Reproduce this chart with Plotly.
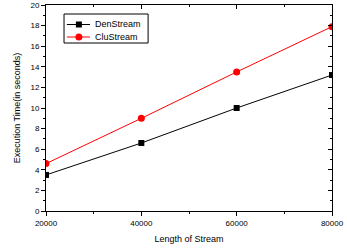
import plotly.graph_objects as go

x_vals = [20000, 40000, 60000, 80000]
denstream = [3.5, 6.6, 10.0, 13.2]
clustream = [4.6, 9.0, 13.5, 17.9]
x_ticks = [20000, 40000, 60000, 80000]
x_ticktext = ["20000", "40000", "60000", "80000"]
y_ticks = [0, 2, 4, 6, 8, 10, 12, 14, 16, 18, 20]
series_names = ["DenStream", "CluStream"]
series_colors = ["black", "red"]

FONT = "Arial, Liberation Sans, sans-serif"

fig = go.Figure()
fig.add_trace(go.Scatter(x=x_vals, y=denstream, name=series_names[0], mode="lines+markers",
                         line=dict(color=series_colors[0], width=1),
                         marker=dict(symbol="square", size=6, color=series_colors[0])))
fig.add_trace(go.Scatter(x=x_vals, y=clustream, name=series_names[1], mode="lines+markers",
                         line=dict(color=series_colors[1], width=1),
                         marker=dict(symbol="circle", size=7, color=series_colors[1])))
# invisible trace for mirrored axes
fig.add_trace(go.Scatter(x=x_vals, y=denstream, xaxis="x2", yaxis="y2", mode="markers",
                         marker=dict(opacity=0), showlegend=False, hoverinfo="skip"))

# compact legend drawn in paper coordinates
top_m, bot_m = 5, 39
ph = 250 - top_m - bot_m
def py(pix):
    return (250 - bot_m - pix) / ph

shapes = [dict(type="rect", xref="paper", yref="paper", x0=0.063, x1=0.357, y0=py(43), y1=py(14),
               line=dict(color="black", width=1), fillcolor="white", layer="above")]
annotations = []
entry_y = [py(24.5), py(37)]
for i, name in enumerate(series_names):
    c = series_colors[i]
    y = entry_y[i]
    shapes.append(dict(type="line", xref="paper", yref="paper", x0=0.073, x1=0.154, y0=y, y1=y,
                       line=dict(color=c, width=1), layer="above"))
    half = 3 if i == 0 else 3.5
    shapes.append(dict(type="rect" if i == 0 else "circle", xref="paper", yref="paper",
                       xsizemode="pixel", ysizemode="pixel", xanchor=0.115, yanchor=y,
                       x0=-half, x1=half, y0=-half, y1=half,
                       line=dict(color=c, width=0), fillcolor=c, layer="above"))
    annotations.append(dict(xref="paper", yref="paper", x=0.164, y=y, xanchor="left", yanchor="middle",
                            text=name, showarrow=False, font=dict(family=FONT, size=9, color="black")))

axis_common = dict(showgrid=False, zeroline=False, showline=True, linecolor="black", linewidth=1,
                   tickcolor="black", automargin=False, ticklabeloverflow="allow",
                   tickfont=dict(family=FONT, size=8, color="black"))

fig.update_layout(
    width=347, height=250,
    margin=dict(l=46, r=15, t=top_m, b=bot_m, autoexpand=False),
    paper_bgcolor="white", plot_bgcolor="white",
    font=dict(family=FONT, color="black"),
    showlegend=False,
    shapes=shapes, annotations=annotations,
    xaxis=dict(range=[20000, 80000], tickvals=x_ticks, ticktext=x_ticktext, ticks="outside", ticklen=4,
               minor=dict(dtick=10000, ticklen=2, ticks="outside", tickcolor="black"),
               title=dict(text="Length of Stream", font=dict(family=FONT, size=9), standoff=9),
               **axis_common),
    yaxis=dict(range=[0, 20], tickvals=y_ticks, ticks="outside", ticklen=4,
               minor=dict(dtick=1, ticklen=2, ticks="outside", tickcolor="black"),
               title=dict(text="Execution Time(in seconds)", font=dict(family=FONT, size=9), standoff=8),
               **axis_common),
    xaxis2=dict(overlaying="x", side="top", matches="x", tickvals=x_ticks, ticks="inside", ticklen=4,
                minor=dict(dtick=10000, ticklen=2, ticks="inside", tickcolor="black"),
                showticklabels=False, showgrid=False, zeroline=False, showline=True,
                linecolor="black", tickcolor="black", automargin=False),
    yaxis2=dict(overlaying="y", side="right", matches="y", tickvals=y_ticks, ticks="inside", ticklen=4,
                minor=dict(dtick=1, ticklen=2, ticks="inside", tickcolor="black"),
                showticklabels=False, showgrid=False, zeroline=False, showline=True,
                linecolor="black", tickcolor="black", automargin=False),
)

fig.write_html("out.html", config={"displayModeBar": False},
               post_script="document.body.style.margin='0';document.body.style.overflow='hidden';")
